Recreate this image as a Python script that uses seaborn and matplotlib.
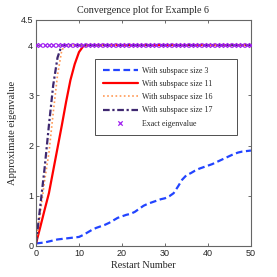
import numpy as np
import pandas as pd
import seaborn as sns
import matplotlib.pyplot as plt

# restart number / approximate eigenvalue
restarts = list(range(51))
size3 = [0.05, 0.06, 0.07, 0.09, 0.11, 0.13, 0.14, 0.15, 0.16, 0.17,
         0.18, 0.22, 0.27, 0.32, 0.36, 0.39, 0.42, 0.46, 0.51, 0.56,
         0.59, 0.62, 0.64, 0.68, 0.74, 0.80, 0.84, 0.87, 0.90, 0.93,
         0.95, 0.99, 1.05, 1.18, 1.32, 1.41, 1.45, 1.50, 1.54, 1.57,
         1.60, 1.63, 1.67, 1.71, 1.75, 1.79, 1.83, 1.86, 1.88, 1.89, 1.90]

x11 = [0, 1, 2, 3, 4, 5, 6, 7, 8, 9, 10, 11, 12, 50]
size11 = [0.05, 0.38, 0.72, 1.05, 1.5, 1.95, 2.4, 2.87, 3.3, 3.62, 3.86, 3.98, 4.0, 4.0]

x16 = [0, 1, 2, 3, 4, 5, 6, 7, 50]
size16 = [0.05, 0.65, 1.3, 1.85, 2.65, 3.4, 3.9, 4.0, 4.0]

x17 = [0, 1, 2, 3, 4, 5, 6, 50]
size17 = [0.05, 0.8, 1.55, 2.4, 3.2, 3.75, 4.0, 4.0]

exact = [4.0] * len(restarts)

sns.set_style("ticks")
plt.rcParams['font.family'] = ['Liberation Serif', 'DejaVu Serif']

fig, ax = plt.subplots(figsize=(2.77, 2.77), dpi=100)
fig.subplots_adjust(left=0.13, right=0.906, bottom=0.112, top=0.928)

sns.lineplot(x=restarts, y=size3, ax=ax, color='#2244ff', linestyle=(0, (3, 1.6)),
             linewidth=1.6, label='With subspace size 3')
sns.lineplot(x=x11, y=size11, ax=ax, color='#ff0000', linewidth=1.6,
             label='With subspace size 11')
sns.lineplot(x=x16, y=size16, ax=ax, color='#ff9955', linestyle=(0, (1, 1.5)),
             linewidth=1.2, label='With subspace size 16')
sns.lineplot(x=x17, y=size17, ax=ax, color='#3f2870', linestyle=(0, (3, 1.2, 1, 1.2)),
             linewidth=1.6, label='With subspace size 17')
sns.scatterplot(x=restarts, y=exact, ax=ax, color='#a020f0', marker='x', s=10,
                linewidth=0.9, label='Exact eigenvalue', zorder=5)

ax.set_xlim(0, 50)
ax.set_ylim(0, 4.5)
ax.set_xticks([0, 10, 20, 30, 40, 50])
ax.set_yticks([0, 1, 2, 3, 4, 4.5])
ax.set_yticklabels(['0', '1', '2', '3', '4', '4.5'])
ax.tick_params(direction='in', length=2.5, width=0.6, top=True, right=True,
               labelsize=6.5, pad=2, color='#555555')
for lab in ax.get_xticklabels() + ax.get_yticklabels():
    lab.set_family(['Liberation Sans', 'DejaVu Sans'])
for sp in ax.spines.values():
    sp.set_linewidth(0.8)
    sp.set_color('#666666')

ax.set_title('Convergence plot for Example 6', fontsize=7.3, pad=5)
ax.set_xlabel('Restart Number', fontsize=7.3, labelpad=2)
ax.set_ylabel('Approximate eigenvalue', fontsize=7.6, labelpad=3)

leg = ax.legend(loc='upper left', bbox_to_anchor=(0.274, 0.482, 0.661, 0.345),
                mode='expand', fontsize=5.7, handlelength=4.4, frameon=True,
                fancybox=False, edgecolor='#222222', borderpad=1.0,
                labelspacing=0.65, handletextpad=0.5, borderaxespad=0)
leg.get_frame().set_linewidth(0.7)

fig.savefig('out.png', dpi=100)
